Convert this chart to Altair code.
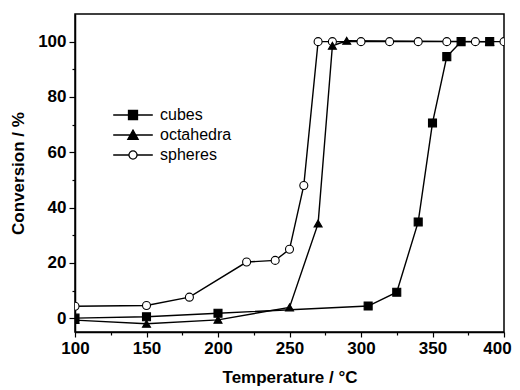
import altair as alt
import pandas as pd

series_names = ["cubes", "octahedra", "spheres"]

cubes_x = [100, 150, 200, 305, 325, 340, 350, 360, 370, 390]
cubes_y = [0.0, 0.5, 1.8, 4.4, 9.4, 34.8, 70.6, 94.6, 100.0, 100.0]

octa_x = [100, 150, 200, 250, 270, 280, 290, 390]
octa_y = [-0.7, -2.0, -0.6, 3.9, 34.2, 98.5, 100.3, 100.0]

sph_x = [100, 150, 180, 220, 240, 250, 260, 270, 280, 300, 320, 340, 360, 380, 400]
sph_y = [4.3, 4.6, 7.6, 20.3, 20.9, 24.9, 48.0, 100.0, 100.0, 100.0, 100.0, 100.0, 100.0, 100.0, 100.0]

x_ticks = [100, 125, 150, 175, 200, 225, 250, 275, 300, 325, 350, 375, 400]
y_ticks = [0, 10, 20, 30, 40, 50, 60, 70, 80, 90, 100]

rows = []
for name, xs, ys in [("spheres", sph_x, sph_y), ("octahedra", octa_x, octa_y), ("cubes", cubes_x, cubes_y)]:
    for i, (a, b) in enumerate(zip(xs, ys)):
        rows.append({"series": name, "T": a, "conv": b, "i": i})
df = pd.DataFrame(rows)

FONT = "Liberation Sans"

x_enc = alt.X(
    "T:Q",
    scale=alt.Scale(domain=[100, 400], nice=False, zero=False),
    axis=alt.Axis(
        title="Temperature / \u00b0C",
        values=x_ticks,
        labelExpr="datum.value % 50 === 0 ? datum.label : ''",
        tickSize={"condition": {"test": "datum.value % 50 === 0", "value": 5}, "value": 3},
        labelOffset={"condition": {"test": "datum.value === 400", "value": -7}, "value": 0},
        grid=False,
        labelFlush=False,
        labelPadding=3,
        titlePadding=13,
    ),
)
y_enc = alt.Y(
    "conv:Q",
    scale=alt.Scale(domain=[-5, 110], nice=False, zero=False),
    axis=alt.Axis(
        title="Conversion / %",
        values=y_ticks,
        labelExpr="datum.value % 20 === 0 ? datum.label : ''",
        tickSize={"condition": {"test": "datum.value % 20 === 0", "value": 6}, "value": 3},
        grid=False,
        labelFlush=False,
        labelPadding=3,
        titlePadding=10,
    ),
)

lines = alt.Chart(df).mark_line(color="black", strokeWidth=1.4, clip=True).encode(
    x=x_enc, y=y_enc, detail="series:N", order="i:Q"
)

points = alt.Chart(df).mark_point(filled=True, stroke="black", strokeWidth=1.1, size=64, opacity=1, clip=True).encode(
    x=x_enc,
    y=y_enc,
    shape=alt.Shape("series:N", scale=alt.Scale(domain=series_names, range=["square", "triangle-up", "circle"]), legend=None),
    fill=alt.Fill("series:N", scale=alt.Scale(domain=series_names, range=["black", "black", "white"]), legend=None),
)

leg_paths = [
    "M-4.4,0H4.4M-1,-1H1V1H-1Z",
    "M-4.4,0H4.4M0,-1.1L1.15,0.95H-1.15Z",
    "M-4.4,0H-0.9M0.9,0H4.4M-0.9,0A0.9,0.9 0 1,0 0.9,0A0.9,0.9 0 1,0 -0.9,0Z",
]

legend_layer = alt.Chart(df).transform_filter("false").mark_point(
    filled=True, strokeWidth=1.3, opacity=1
).encode(
    x=x_enc,
    y=y_enc,
    shape=alt.Shape(
        "series:N",
        scale=alt.Scale(domain=series_names, range=leg_paths),
        legend=alt.Legend(
            title=None,
            orient="none",
            legendX=50,
            legendY=93,
            symbolSize=81,
            symbolStrokeColor="black",
            symbolStrokeWidth=1.3,
            labelFont=FONT,
            labelFontSize=16,
            labelColor="black",
            labelOffset=19,
            rowPadding=4,
            padding=0,
        ),
    ),
    fill=alt.Fill("series:N", scale=alt.Scale(domain=series_names, range=["black", "black", "white"])),
    stroke=alt.Stroke("series:N", scale=alt.Scale(domain=series_names, range=["black", "black", "black"])),
)

chart = (
    alt.layer(lines, points, legend_layer)
    .resolve_scale(shape="independent", fill="independent", stroke="independent")
    .properties(
        width=429,
        height=318,
        autosize=alt.AutoSizeParams(type="none"),
        padding={"left": 67, "top": 6, "right": 8, "bottom": 58},
        background="white",
    )
    .configure_view(stroke="black", strokeWidth=1.5)
    .configure_axis(
        domainColor="black",
        domainWidth=1.5,
        tickColor="black",
        tickWidth=1.2,
        labelFont=FONT,
        labelFontSize=17,
        labelFontWeight="bold",
        labelColor="black",
        titleFont=FONT,
        titleFontSize=17,
        titleFontWeight="bold",
        titleColor="black",
    )
)

chart.save("out.html", embed_options={"renderer": "svg", "actions": False})
